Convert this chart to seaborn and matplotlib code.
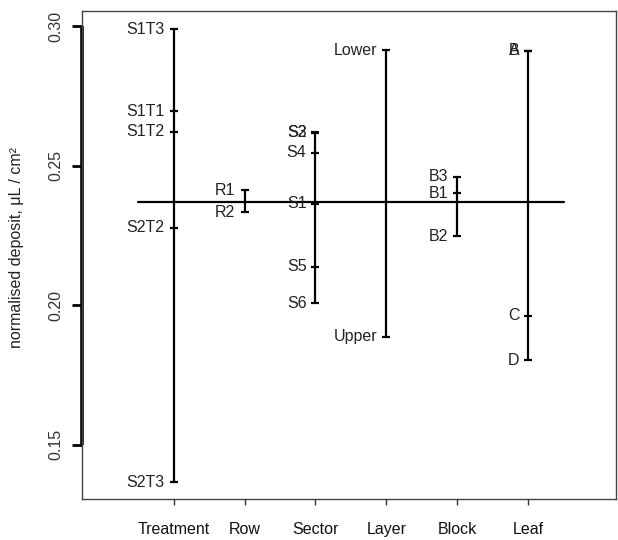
import matplotlib
matplotlib.use("Agg")
import matplotlib.pyplot as plt
import seaborn as sns
import pandas as pd

# ---- data ----
factors = ["Treatment", "Row", "Sector", "Layer", "Block", "Leaf"]

treatment_levels = ["S1T3", "S1T1", "S1T2", "S2T2", "S2T3"]
treatment_values = [0.2988, 0.2695, 0.2621, 0.2277, 0.1365]

row_levels = ["R1", "R2"]
row_values = [0.2412, 0.2332]

sector_levels = ["S2", "S3", "S4", "S1", "S5", "S6"]
sector_values = [0.2619, 0.2617, 0.2546, 0.2364, 0.2137, 0.2006]

layer_levels = ["Lower", "Upper"]
layer_values = [0.2914, 0.1886]

block_levels = ["B3", "B1", "B2"]
block_values = [0.2460, 0.2400, 0.2247]

leaf_levels = ["A", "B", "C", "D"]
leaf_values = [0.2912, 0.2912, 0.1961, 0.1803]

grand_mean = 0.2371

y_ticks = [0.15, 0.20, 0.25, 0.30]
y_tick_labels = ["0.15", "0.20", "0.25", "0.30"]
y_label = "normalised deposit, μL / cm²"

# ---- build table ----
level_sets = [
    (treatment_levels, treatment_values),
    (row_levels, row_values),
    (sector_levels, sector_values),
    (layer_levels, layer_values),
    (block_levels, block_values),
    (leaf_levels, leaf_values),
]
rows = []
for i, (f, (levs, vals)) in enumerate(zip(factors, level_sets)):
    for lev, v in zip(levs, vals):
        rows.append({"factor": f, "pos": i + 1, "level": lev, "value": v})
df = pd.DataFrame(rows)

# ---- style ----
sns.set_style("white")
plt.rcParams["font.family"] = ["Liberation Sans", "DejaVu Sans"]
FS = 11.5

fig = plt.figure(figsize=(6.18, 5.40), dpi=100)
ax = fig.add_axes([82 / 618, 1 - 499 / 540, (616 - 82) / 618, (499 - 11) / 540])

# vertical ranges per factor
sns.lineplot(data=df, x="pos", y="value", units="factor", estimator=None,
             sort=True, color="black", lw=1.6, ax=ax, legend=False)
# level ticks
sns.scatterplot(data=df, x="pos", y="value", marker="_", s=28, linewidth=1.6,
                color="black", ax=ax, legend=False)
# grand mean line
mean_df = pd.DataFrame({"x": [0.5, len(factors) + 0.5], "y": [grand_mean, grand_mean]})
sns.lineplot(data=mean_df, x="x", y="y", color="black", lw=1.6, ax=ax, legend=False)

# level labels
for _, r in df.iterrows():
    ax.annotate(r["level"], xy=(r["pos"], r["value"]), xytext=(-6.5, 0),
                textcoords="offset points", ha="right", va="center",
                fontsize=FS, color="#222222")

ax.set_xlim(-0.29, 7.235)
ax.set_ylim(0.1305, 0.3054)

ax.set_xticks(range(1, len(factors) + 1))
ax.set_xticklabels(factors, fontsize=FS, color="#111111")
ax.set_yticks(y_ticks)
ax.set_yticklabels(y_tick_labels, fontsize=FS, color="#333333", rotation=90, va="center")

ax.tick_params(axis="x", bottom=True, direction="out", length=4.5, width=1.0,
               pad=12, color="#333333")
ax.tick_params(axis="y", left=True, direction="out", length=7.5, width=2.0,
               pad=6, color="black")

ax.set_xlabel("")
ax.set_ylabel(y_label, fontsize=FS, color="#222222")
ax.yaxis.set_label_coords(-0.108, 0.515)

for s in ax.spines.values():
    s.set_visible(True)
    s.set_color("#444444")
    s.set_linewidth(1.0)

# thick R-style y axis line over tick range
ax.plot([0, 0], [y_ticks[0], y_ticks[-1]], transform=ax.get_yaxis_transform(),
        lw=2.6, color="black", clip_on=False, solid_capstyle="butt")

fig.savefig("out.png", dpi=100, facecolor="white")
